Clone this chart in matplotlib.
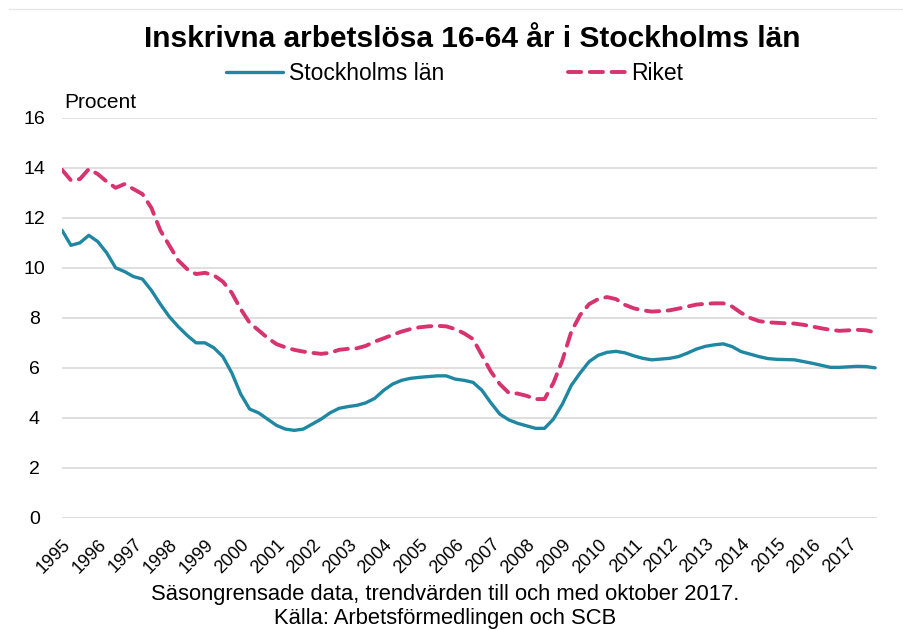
import matplotlib
matplotlib.use("Agg")
import matplotlib.pyplot as plt
import matplotlib.transforms as mtransforms
import numpy as np

plt.rcParams['font.family'] = ['Liberation Sans', 'DejaVu Sans']

# quarterly readings, Jan 1995 - Oct 2017
start_year = 1995
stockholm = [
    11.5, 10.9, 11.0, 11.3,   # 1995
    11.05, 10.6, 10.0, 9.85,  # 1996
    9.65, 9.55, 9.1, 8.55,    # 1997
    8.05, 7.65, 7.3, 7.0,     # 1998
    7.0, 6.8, 6.45, 5.8,      # 1999
    4.95, 4.35, 4.2, 3.95,    # 2000
    3.7, 3.55, 3.5, 3.55,     # 2001
    3.75, 3.95, 4.2, 4.38,    # 2002
    4.45, 4.5, 4.6, 4.78,     # 2003
    5.1, 5.35, 5.5, 5.58,     # 2004
    5.62, 5.65, 5.68, 5.68,   # 2005
    5.55, 5.5, 5.42, 5.1,     # 2006
    4.6, 4.15, 3.92, 3.78,    # 2007
    3.68, 3.58, 3.58, 3.95,   # 2008
    4.55, 5.3, 5.8, 6.25,     # 2009
    6.5, 6.62, 6.66, 6.6,     # 2010
    6.48, 6.38, 6.32, 6.35,   # 2011
    6.38, 6.45, 6.59, 6.75,   # 2012
    6.86, 6.92, 6.96, 6.85,   # 2013
    6.65, 6.55, 6.45, 6.37,   # 2014
    6.34, 6.33, 6.32, 6.25,   # 2015
    6.18, 6.1, 6.02, 6.02,    # 2016
    6.04, 6.06, 6.05, 6.0,    # 2017
]
riket = [
    13.92, 13.5, 13.55, 13.95,
    13.75, 13.45, 13.2, 13.35,
    13.15, 12.95, 12.4, 11.5,
    10.9, 10.3, 9.95, 9.75,
    9.8, 9.7, 9.45, 9.0,
    8.35, 7.8, 7.5, 7.2,
    6.95, 6.82, 6.72, 6.65,
    6.6, 6.56, 6.6, 6.72,
    6.76, 6.78, 6.88, 7.05,
    7.18, 7.32, 7.45, 7.55,
    7.62, 7.66, 7.68, 7.66,
    7.55, 7.38, 7.15, 6.5,
    5.85, 5.35, 5.0, 4.97,
    4.88, 4.75, 4.75, 5.4,
    6.3, 7.45, 8.12, 8.55,
    8.75, 8.83, 8.75, 8.52,
    8.38, 8.3, 8.25, 8.27,
    8.3, 8.37, 8.45, 8.53,
    8.56, 8.58, 8.58, 8.45,
    8.2, 8.0, 7.87, 7.82,
    7.8, 7.78, 7.77, 7.72,
    7.65, 7.58, 7.52, 7.48,
    7.5, 7.52, 7.5, 7.42,
]
years = list(range(1995, 2018))

t = start_year + np.arange(len(stockholm)) * 0.25

fig = plt.figure(figsize=(9.04, 6.30), dpi=100)
ax = fig.add_axes([0.0686, 0.178, 0.9014, 0.635])

ax.plot(t, stockholm, color='#1f87a2', lw=2.4, label='Stockholms län',
        solid_capstyle='round', solid_joinstyle='round')
ax.plot(t, riket, color='#d6336f', lw=2.8, label='Riket',
        linestyle=(0, (3.4, 2.2)), dash_capstyle='round')

ax.set_xlim(1995, 2017.8)
ax.set_ylim(0, 16)
ax.set_yticks(range(0, 17, 2))
ax.set_xticks(years)
ax.set_xticklabels([str(y) for y in years], rotation=45, ha='right',
                   rotation_mode='anchor', fontsize=13)
shift = mtransforms.ScaledTranslation(-6 / 100, 0, fig.dpi_scale_trans)
for lab in ax.get_xticklabels():
    lab.set_transform(lab.get_transform() + shift)
ax.tick_params(axis='x', length=0, pad=13)
ax.tick_params(axis='y', length=0, pad=20, labelsize=14)
for lab in ax.get_yticklabels():
    lab.set_horizontalalignment('center')
ax.grid(axis='y', color='#d9d9d9', lw=1.2)
ax.set_axisbelow(True)
for s in ax.spines.values():
    s.set_visible(False)

fig.text(0.071, 0.829, 'Procent', fontsize=15)
fig.text(0.522, 0.938, 'Inskrivna arbetslösa 16-64 år i Stockholms län',
         ha='center', va='center', fontsize=21.5, fontweight='bold')
fig.legend(loc='center', bbox_to_anchor=(0.503, 0.884), ncol=2, frameon=False,
           fontsize=16.5, handlelength=2.5, handletextpad=0.25, columnspacing=5.4)
fig.text(0.492, 0.056, 'Säsongrensade data, trendvärden till och med oktober 2017.',
         ha='center', va='center', fontsize=15.8)
fig.text(0.492, 0.019, 'Källa: Arbetsförmedlingen och SCB',
         ha='center', va='center', fontsize=15.8)
fig.add_artist(plt.Line2D([0.01, 1.0], [0.985, 0.985], color='#e6e6e6', lw=1))

fig.savefig('out.png', dpi=100)
